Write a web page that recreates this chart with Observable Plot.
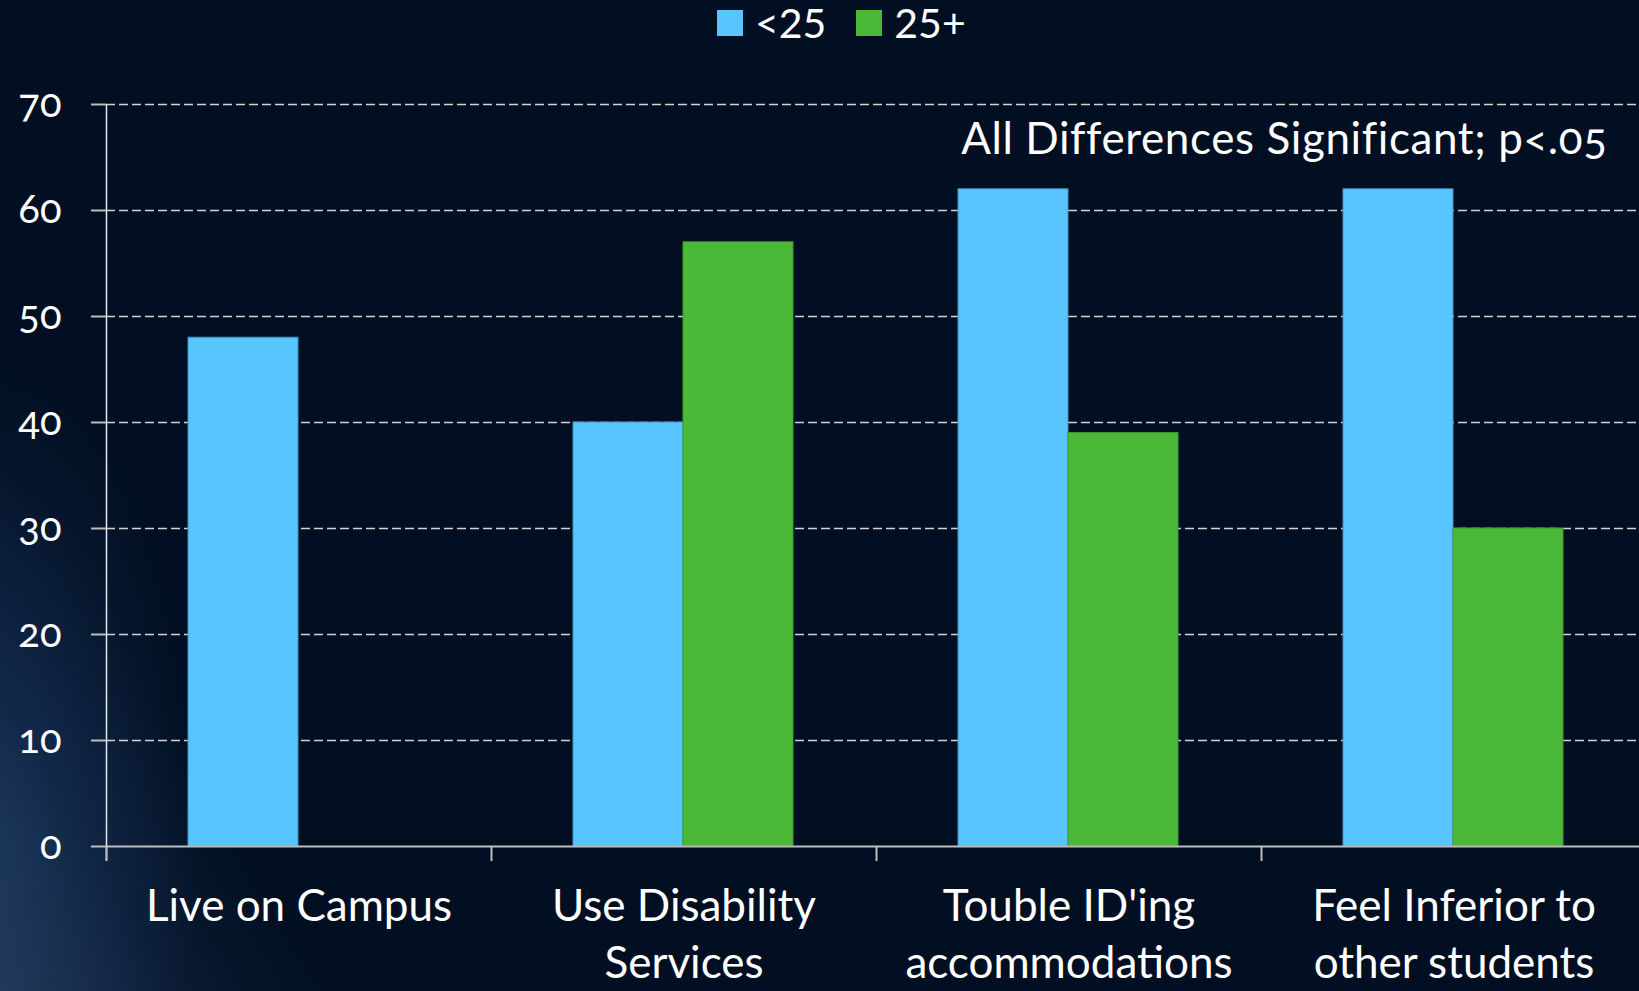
<!DOCTYPE html>
<html>
<head>
<meta charset="utf-8">
<script src="https://cdn.jsdelivr.net/npm/d3@7"></script>
<script src="https://cdn.jsdelivr.net/npm/@observablehq/plot@0.6"></script>
<style>
  html, body { margin: 0; padding: 0; }
  body {
    width: 1639px; height: 991px; overflow: hidden; position: relative;
    font-family: Lato, "Open Sans", sans-serif; color: #fff;
    background:
      linear-gradient(58deg, rgba(70,100,140,0.35) 0%, rgba(40,70,110,0.2) 8%, rgba(2,15,34,0) 15%),
      radial-gradient(ellipse 200px 480px at 0% 85%, rgba(28,62,110,0.55), rgba(2,15,34,0) 100%),
      #020f22;
  }
  #legend {
    position: relative; height: 56px; box-sizing: border-box;
    padding-left: 717px; padding-top: 10px;
    display: flex; align-items: flex-start;
  }
  .sw { width: 26px; height: 26px; margin-right: 12px; }
  .lab { font-size: 41px; line-height: 26px; margin-right: 30px; white-space: pre; }
  svg text { font-variant-numeric: oldstyle-nums; }
  .note text { letter-spacing: 0.6px; }
</style>
</head>
<body>
<div id="legend"></div>
<div id="chart"></div>
<script>
// ---- data ----
const categories = ["Live on Campus", "Use Disability Services", "Touble ID'ing accommodations", "Feel Inferior to other students"];
const categoryLabels = ["Live on Campus", "Use Disability\nServices", "Touble ID'ing\naccommodations", "Feel Inferior to\nother students"];
const groups = ["<25", "25+"];
const under25 = [48, 40, 62, 62];
const over25 = [null, 57, 39, 30];
const yTicks = [0, 10, 20, 30, 40, 50, 60, 70];
const colors = ["#58c5ff", "#4cb838"];
const note = "All Differences Significant; p<.05";

const under = categories.map((c, i) => ({category: c, group: groups[0], value: under25[i]})).filter(d => d.value != null);
const over = categories.map((c, i) => ({category: c, group: groups[1], value: over25[i]})).filter(d => d.value != null);

// ---- legend ----
const legend = document.getElementById("legend");
groups.forEach((g, i) => {
  const sw = document.createElement("div");
  sw.className = "sw";
  sw.style.background = colors[i];
  const lab = document.createElement("div");
  lab.className = "lab";
  lab.textContent = g;
  legend.appendChild(sw);
  legend.appendChild(lab);
});

// ---- chart ----
const W = 1639, H = 991 - 56;
const chart = Plot.plot({
  width: W,
  height: H,
  marginTop: 48,
  marginBottom: 145,
  marginLeft: 106,
  marginRight: 0,
  style: {background: "transparent", color: "white", fontFamily: "Lato, 'Open Sans', sans-serif", overflow: "visible"},
  x: {domain: categories, range: [106, 1646], padding: 0, axis: null},
  y: {domain: [0, 70], axis: null},
  color: {domain: groups, range: colors},
  marks: [
    Plot.ruleY(yTicks.filter(v => v > 0), {stroke: "#d2d2d2", strokeWidth: 1.5, strokeDasharray: "9,4"}),
    Plot.barY(under, {x: "category", y: "value", fill: "group", stroke: "#3f93c8", strokeWidth: 1, insetLeft: 82, insetRight: 193}),
    Plot.barY(over, {x: "category", y: "value", fill: "group", stroke: "#3f9a30", strokeWidth: 1, insetLeft: 192, insetRight: 83}),
    Plot.ruleY([0], {stroke: "#bdbdbd", strokeWidth: 2}),
    Plot.ruleX([categories[0]], {x: d => d, y1: 70, y2: 0, dx: -192.5, insetBottom: -15, stroke: "#e8e8e8", strokeWidth: 1.5}),
    Plot.axisY({ticks: yTicks, tickSize: 15, tickPadding: 30, fontSize: 40, stroke: "#bdbdbd", strokeWidth: 2, fill: "white", label: null}),
    Plot.axisX({ticks: categories, tickSize: 15, tickFormat: () => "", dx: -192.5, stroke: "#bdbdbd", strokeWidth: 2, label: null}),
    Plot.text(categories, {x: d => d, text: (d, i) => categoryLabels[i], frameAnchor: "bottom", lineAnchor: "top", dy: 34, fontSize: 44, lineHeight: 1.3, fill: "white"}),
    Plot.text([note], {text: d => d, className: "note", frameAnchor: "top-right", textAnchor: "end", lineAnchor: "top", dx: -32, dy: 18, fontSize: 44, fill: "white"})
  ]
});
document.getElementById("chart").appendChild(chart);
</script>
</body>
</html>
